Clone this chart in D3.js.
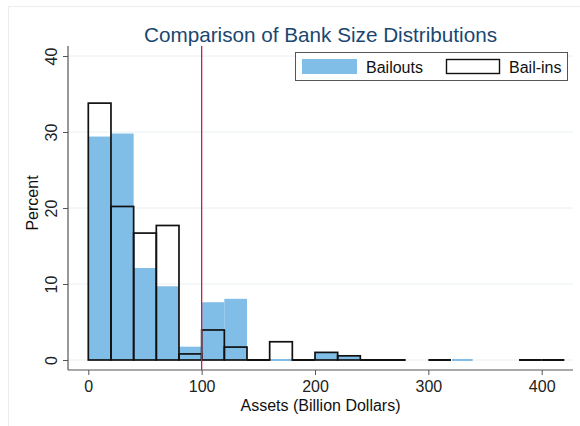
<!DOCTYPE html>
<html>
<head>
<meta charset="utf-8">
<script src="https://cdn.jsdelivr.net/npm/d3@7"></script>
<style>
  html, body { margin: 0; padding: 0; background: #fff; }
  svg { display: block; font-family: "Liberation Sans", Arial, sans-serif; }
</style>
</head>
<body>
<svg id="chart" width="580" height="426"></svg>
<script>
// Histogram bins (left edge, billion dollars), width 20
const binStarts = [0, 20, 40, 60, 80, 100, 120, 140, 160, 180, 200, 220, 240, 260, 280, 300, 320, 340, 360, 380, 400];
const binWidth = 20;
// Percent of banks per bin; null = no bar drawn
const bailouts = [29.4, 29.8, 12.1, 9.7, 1.75, 7.6, 8.05, null, 0, null, 1.0, 0.55, null, null, null, null, 0, null, null, null, null];
const bailins  = [33.8, 20.2, 16.7, 17.7, 0.8, 3.95, 1.7, 0, 2.4, 0, 1.0, 0.55, 0, 0, null, 0, null, null, null, 0, 0];
const xTicks = [0, 100, 200, 300, 400];
const yTicks = [0, 10, 20, 30, 40];
const refLine = 100;
const seriesNames = ["Bailouts", "Bail-ins"];

const svg = d3.select("#chart");
const blue = "#80bde7";
const fs = 16;

// faint graph-region outline
svg.append("rect").attr("x", 8.5).attr("y", 6.5).attr("width", 620).attr("height", 500)
  .attr("fill", "none").attr("stroke", "#ececec");

const x = d3.scaleLinear().domain([0, 400]).range([88.3, 541.7]);
const y = d3.scaleLinear().domain([0, 40]).range([360, 56]);
const plotLeft = 68, plotRight = 573, plotTop = 46, plotBottom = 370;

// gridlines
svg.append("g").selectAll("line").data(yTicks).join("line")
  .attr("x1", plotLeft).attr("x2", plotRight)
  .attr("y1", d => y(d)).attr("y2", d => y(d))
  .attr("stroke", "#e9f0f3").attr("stroke-width", 1);

const rows = binStarts.map((b, i) => ({ b, bo: bailouts[i], bi: bailins[i] }));

// Bailouts: filled bars
svg.append("g").selectAll("rect").data(rows.filter(d => d.bo != null && d.bo > 0)).join("rect")
  .attr("x", d => x(d.b)).attr("width", d => x(d.b + binWidth) - x(d.b))
  .attr("y", d => y(d.bo)).attr("height", d => y(0) - y(d.bo))
  .attr("fill", blue);

// Bail-ins: outlined bars
svg.append("g").selectAll("rect").data(rows.filter(d => d.bi != null && d.bi > 0)).join("rect")
  .attr("x", d => x(d.b)).attr("width", d => x(d.b + binWidth) - x(d.b))
  .attr("y", d => y(d.bi)).attr("height", d => y(0) - y(d.bi))
  .attr("fill", "none").attr("stroke", "#111").attr("stroke-width", 1.7);

// zero-height bins drawn as flat segments
svg.append("g").selectAll("line").data(rows.filter(d => d.bi === 0)).join("line")
  .attr("x1", d => x(d.b)).attr("x2", d => x(d.b + binWidth))
  .attr("y1", y(0)).attr("y2", y(0))
  .attr("stroke", "#111").attr("stroke-width", 2);
svg.append("g").selectAll("line").data(rows.filter(d => d.bo === 0)).join("line")
  .attr("x1", d => x(d.b) + 1).attr("x2", d => x(d.b + binWidth) - 1)
  .attr("y1", y(0)).attr("y2", y(0))
  .attr("stroke", blue).attr("stroke-width", 2);

// reference line at 100
svg.append("line").attr("x1", x(refLine)).attr("x2", x(refLine))
  .attr("y1", plotTop).attr("y2", plotBottom)
  .attr("stroke", "#cc1f44").attr("stroke-width", 1.3);

// axes
const axisColor = "#555";
const yAxis = svg.append("g").attr("transform", `translate(${plotLeft},0)`)
  .call(d3.axisLeft(y).tickValues(yTicks).tickSize(5).tickPadding(0));
yAxis.select(".domain").remove();
yAxis.selectAll(".tick line").attr("stroke", axisColor);
yAxis.selectAll(".tick text")
  .attr("x", 0).attr("y", 0).attr("dy", null)
  .attr("text-anchor", "middle")
  .attr("transform", `translate(${57 - plotLeft},0) rotate(-90)`)
  .attr("font-size", fs).attr("fill", "#222").attr("font-family", null);
svg.append("line").attr("x1", plotLeft).attr("x2", plotLeft).attr("y1", plotTop).attr("y2", plotBottom)
  .attr("stroke", axisColor).attr("stroke-width", 1.2);

const xAxis = svg.append("g").attr("transform", `translate(0,${plotBottom})`)
  .call(d3.axisBottom(x).tickValues(xTicks).tickSize(5).tickPadding(6));
xAxis.select(".domain").remove();
xAxis.selectAll(".tick line").attr("stroke", axisColor);
xAxis.selectAll(".tick text").attr("font-size", fs).attr("fill", "#222").attr("font-family", null);
svg.append("line").attr("x1", plotLeft).attr("x2", plotRight).attr("y1", plotBottom).attr("y2", plotBottom)
  .attr("stroke", axisColor).attr("stroke-width", 1.2);

// axis titles
svg.append("text").attr("x", 320.5).attr("y", 411).attr("text-anchor", "middle")
  .attr("font-size", fs).attr("fill", "#111").text("Assets (Billion Dollars)");
svg.append("text").attr("transform", "translate(38,203) rotate(-90)").attr("text-anchor", "middle")
  .attr("font-size", fs).attr("fill", "#111").text("Percent");

// title
svg.append("text").attr("x", 320.5).attr("y", 41.5).attr("text-anchor", "middle")
  .attr("font-size", 20.7).attr("fill", "#1a476f").text("Comparison of Bank Size Distributions");

// legend
const lg = svg.append("g");
lg.append("rect").attr("x", 295.5).attr("y", 52.5).attr("width", 272).attr("height", 28)
  .attr("fill", "#fff").attr("stroke", "#555").attr("stroke-width", 1);
lg.append("rect").attr("x", 302).attr("y", 59).attr("width", 55).attr("height", 15).attr("fill", blue);
lg.append("text").attr("x", 366).attr("y", 72.5).attr("font-size", fs).attr("fill", "#111").text(seriesNames[0]);
lg.append("rect").attr("x", 446.5).attr("y", 59.5).attr("width", 53).attr("height", 14)
  .attr("fill", "#fff").attr("stroke", "#111").attr("stroke-width", 1.4);
lg.append("text").attr("x", 509).attr("y", 72.5).attr("font-size", fs).attr("fill", "#111").text(seriesNames[1]);
</script>
</body>
</html>
